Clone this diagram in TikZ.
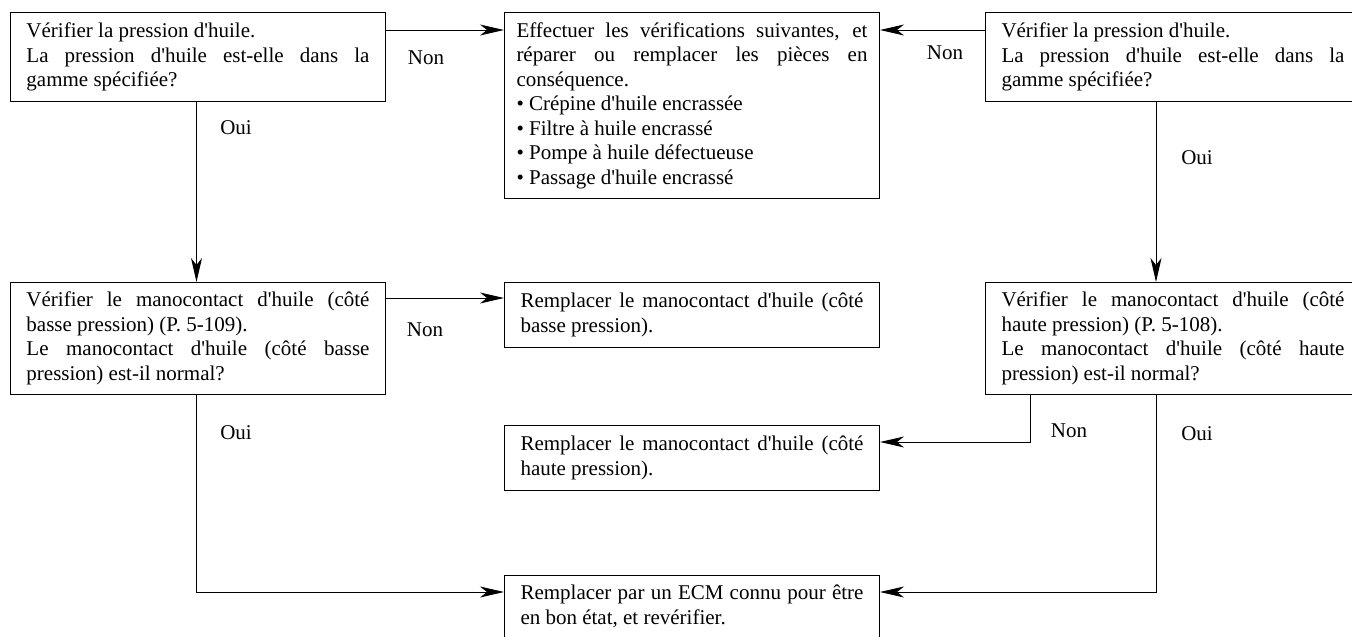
\documentclass[tikz,border=0pt]{standalone}
\usepackage{fontspec}
\setmainfont{Liberation Serif}
\usetikzlibrary{arrows.meta}
\newcommand\myap{\textquotesingle}
\begin{document}
\begin{tikzpicture}[x=1pt,y=-1pt,
  box/.style={draw,line width=1pt,anchor=north west,text width=343pt,inner xsep=16pt,inner ysep=0pt,align=justify,font=\fontsize{21}{24.5}\selectfont},
  lbl/.style={font=\fontsize{21}{24.5}\selectfont,inner sep=0pt},
  arr/.style={line width=1pt,-{Stealth[length=24pt,width=11pt,inset=7pt]}}]
\clip (0,0) rectangle (1352,637);
\fill[white] (0,0) rectangle (1352,637);
\node[box,minimum height=89pt] (A) at (10,12) {Vérifier la pression d\myap huile.\\La pression d\myap huile est-elle dans la\linebreak gamme spécifiée?};
\node[box,text width=351pt,inner xsep=12pt,minimum height=186pt] (B) at (504,12) {Effectuer les vérifications suivantes, et\linebreak réparer ou remplacer les pièces en\linebreak conséquence.\\• Crépine d\myap huile encrassée\\• Filtre à huile encrassé\\• Pompe à huile défectueuse\\• Passage d\myap huile encrassé};
\node[box,minimum height=89pt] (C) at (985,12) {Vérifier la pression d\myap huile.\\La pression d\myap huile est-elle dans la\linebreak gamme spécifiée?};
\node[box,minimum height=112pt] (D) at (10,282) {Vérifier le manocontact d\myap huile (côté\linebreak basse pression) (P. 5-109).\\Le manocontact d\myap huile (côté basse\linebreak pression) est-il normal?};
\node[box,minimum height=65pt] (E) at (504,282) {Remplacer le manocontact d\myap huile (côté\linebreak basse pression).};
\node[box,minimum height=112pt] (F) at (985,282) {Vérifier le manocontact d\myap huile (côté\linebreak haute pression) (P. 5-108).\\Le manocontact d\myap huile (côté haute\linebreak pression) est-il normal?};
\node[box,minimum height=65pt] (G) at (504,425) {Remplacer le manocontact d\myap huile (côté\linebreak haute pression).};
\node[box,minimum height=62pt] (H) at (504,575) {Remplacer par un ECM connu pour être\linebreak en bon état, et revérifier.};
\draw[arr] ([yshift=-18pt]A.north east) -- ([yshift=-18pt]B.north west);
\draw[arr] ([yshift=-18pt]C.north west) -- ([yshift=-18pt]B.north east);
\draw[arr] ([xshift=-1.5pt]A.south) -- ([xshift=-1.5pt]D.north);
\draw[arr] ([xshift=171pt]C.south west) -- ([xshift=171pt]F.north west);
\draw[arr] ([yshift=-16pt]D.north east) -- ([yshift=-16pt]E.north west);
\draw[arr] ([xshift=45pt]F.south west) |- ([yshift=-17pt]G.north east);
\draw[arr] ([xshift=-1.5pt]D.south) |- ([yshift=-17pt]H.north west);
\draw[arr] ([xshift=171pt]F.south west) |- ([yshift=-17pt]H.north east);
\node[lbl] (n1) at (426,58) {Non};
\node[lbl] (n2) at (945,53) {Non};
\node[lbl] (o1) at (236,128) {Oui};
\node[lbl] (o2) at (1197,158) {Oui};
\node[lbl] (n3) at (425,330) {Non};
\node[lbl] (o3) at (236,433) {Oui};
\node[lbl] (n4) at (1069,431) {Non};
\node[lbl] (o4) at (1197,434) {Oui};
\end{tikzpicture}
\end{document}
